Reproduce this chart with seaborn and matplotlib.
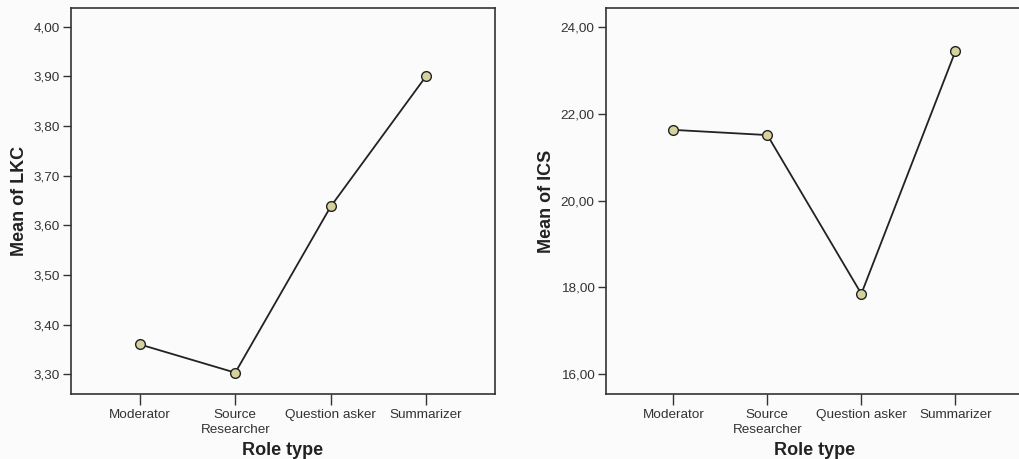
import matplotlib
matplotlib.use("Agg")
import matplotlib.pyplot as plt
import seaborn as sns
import pandas as pd
from matplotlib.ticker import FuncFormatter, FixedLocator

roles = ["Moderator", "Source\nResearcher", "Question asker", "Summarizer"]
lkc_means = [3.36, 3.303, 3.638, 3.901]
ics_means = [21.63, 21.51, 17.85, 23.44]
lkc_ticks = [3.30, 3.40, 3.50, 3.60, 3.70, 3.80, 3.90, 4.00]
ics_ticks = [16.0, 18.0, 20.0, 22.0, 24.0]

sns.set_style("white")
plt.rcParams['font.family'] = ['Liberation Sans', 'DejaVu Sans']

bg = "#fbfbfb"
fig = plt.figure(figsize=(10.2, 4.59), dpi=100, facecolor=bg)
W, H = 1020, 459

def make_ax(left, right):
    return fig.add_axes([left / W, (H - 394) / H, (right - left) / W, 386 / H])

ax1 = make_ax(71, 495)
ax2 = make_ax(605.7, 1023)

df = pd.DataFrame({"role": roles, "LKC": lkc_means, "ICS": ics_means})

def comma(v, pos):
    return f"{v:.2f}".replace(".", ",")

for ax, col, ticks, ylim, ylabel in [
    (ax1, "LKC", lkc_ticks, (3.26, 4.038), "Mean of LKC"),
    (ax2, "ICS", ics_ticks, (15.54, 24.44), "Mean of ICS"),
]:
    sns.pointplot(data=df, x="role", y=col, ax=ax, color="#222222",
                  markers="o", linestyles="-", errorbar=None)
    for ln in ax.lines:
        ln.set_linewidth(1.3)
        ln.set_markersize(7)
        ln.set_markerfacecolor("#d5d29c")
        ln.set_markeredgecolor("#222222")
        ln.set_markeredgewidth(1.0)
    for c in ax.collections:
        c.set_sizes([45])
        c.set_facecolor("#d5d29c")
        c.set_edgecolor("#222222")
        c.set_linewidth(1.0)
    ax.set_facecolor(bg)
    ax.set_xlim(-0.72, 3.72)
    ax.set_ylim(*ylim)
    ax.yaxis.set_major_locator(FixedLocator(ticks))
    ax.yaxis.set_major_formatter(FuncFormatter(comma))
    ax.set_xticks(range(len(roles)))
    ax.set_xticklabels(roles, fontsize=9.7, color="#333333", linespacing=1.25)
    ax.tick_params(axis="y", labelsize=9.7, labelcolor="#333333", direction="out",
                   length=6, width=1.0, color="#333333", left=True, pad=2)
    ax.tick_params(axis="x", direction="out", length=8, width=1.0,
                   color="#333333", bottom=True, pad=3)
    for s in ax.spines.values():
        s.set_color("#333333")
        s.set_linewidth(1.2)
    ax.set_xlabel("Role type", fontsize=13, fontweight="bold", color="#222222", labelpad=5)
    ax.set_ylabel(ylabel, fontsize=13, fontweight="bold", color="#222222", labelpad=4)

fig.savefig("out.png", dpi=100, facecolor=bg)
